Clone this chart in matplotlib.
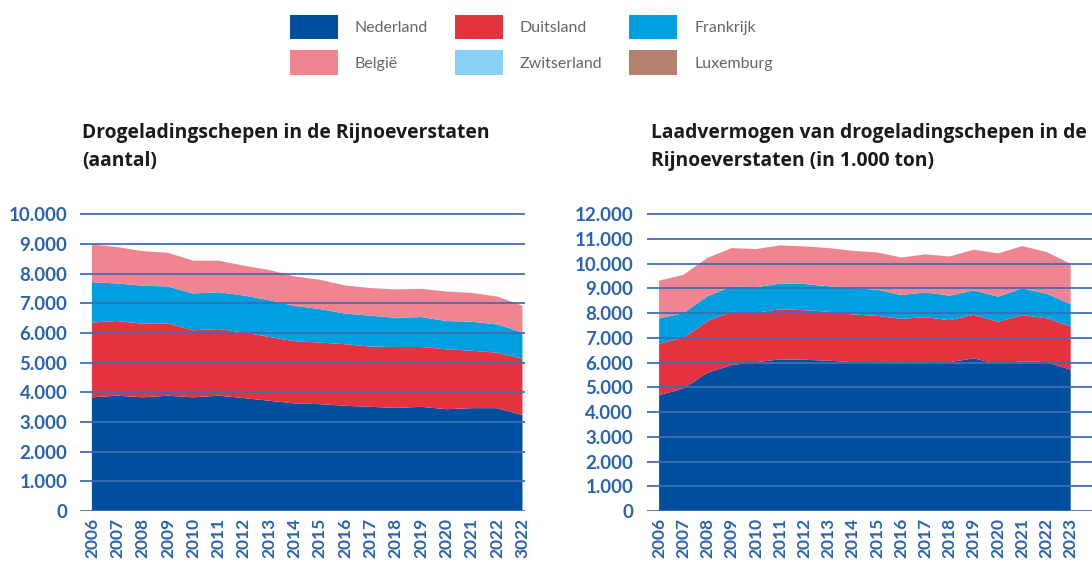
import numpy as np
import matplotlib.pyplot as plt
from matplotlib.patches import Patch
from matplotlib.ticker import FuncFormatter

# aantal drogeladingschepen per land (gestapeld)
jaren_aantal = ['2006', '2007', '2008', '2009', '2010', '2011', '2012', '2013', '2014',
                '2015', '2016', '2017', '2018', '2019', '2020', '2021', '2022', '3022']
nl_aantal = [3830, 3885, 3830, 3885, 3830, 3885, 3805, 3715, 3625, 3600, 3545, 3510, 3475, 3510, 3430, 3465, 3465, 3230]
de_aantal = [2520, 2515, 2480, 2435, 2260, 2245, 2210, 2150, 2095, 2075, 2075, 2030, 2050, 2015, 2020, 1935, 1870, 1900]
fr_aantal = [1360, 1265, 1280, 1245, 1240, 1240, 1245, 1235, 1190, 1130, 1030, 1040, 985, 1010, 950, 975, 950, 885]
be_aantal = [1270, 1225, 1165, 1135, 1105, 1065, 1005, 1020, 995, 985, 950, 930, 955, 950, 995, 975, 940, 905]
ch_aantal = [0] * 18
lu_aantal = [0] * 18

# laadvermogen in 1.000 ton
jaren_ton = ['2006', '2007', '2008', '2009', '2010', '2011', '2012', '2013', '2014',
             '2015', '2016', '2017', '2018', '2019', '2020', '2021', '2022', '2023']
nl_ton = [4680, 4950, 5590, 5900, 6020, 6130, 6115, 6075, 6020, 6020, 5950, 6020, 6020, 6170, 5940, 6050, 6020, 5710]
de_ton = [2085, 2050, 2085, 2155, 1995, 2030, 2005, 1980, 1925, 1870, 1820, 1815, 1695, 1760, 1710, 1870, 1775, 1750]
fr_ton = [1020, 1000, 1005, 1030, 1030, 1035, 1060, 1030, 1060, 1060, 960, 1005, 990, 990, 1015, 1085, 990, 905]
be_ton = [1530, 1545, 1555, 1545, 1545, 1545, 1520, 1545, 1515, 1505, 1520, 1535, 1585, 1645, 1750, 1705, 1685, 1630]
ch_ton = [0] * 18
lu_ton = [0] * 18

landen = ['Nederland', 'Duitsland', 'Frankrijk', 'België', 'Zwitserland', 'Luxemburg']
kleuren = ['#004f9f', '#e3333f', '#009fe0', '#ee8591', '#88d1f5', '#b5806e']

tick_kleur = '#2a63ae'
grid_kleur = '#3f6cb4'

plt.rcParams['font.family'] = ['Lato', 'DejaVu Sans']

fig = plt.figure(figsize=(10.92, 5.64), dpi=100)
ax1 = fig.add_axes([80 / 1092, 53 / 564, 445 / 1092, 298 / 564])
ax2 = fig.add_axes([647 / 1092, 53 / 564, 445 / 1092, 298 / 564])


def teken(ax, jaren, reeksen, ymax, xlim):
    x = np.arange(len(jaren))
    ax.stackplot(x, *reeksen, colors=kleuren, linewidth=0, zorder=1)
    for y in range(0, ymax + 1, 1000):
        ax.axhline(y, color=grid_kleur, lw=1.4, alpha=0.9, zorder=3)
    ax.set_xlim(*xlim)
    ax.set_ylim(0, ymax * 1.004)
    ax.set_yticks(range(0, ymax + 1, 1000))
    ax.yaxis.set_major_formatter(FuncFormatter(lambda v, p: f'{int(v):,}'.replace(',', '.')))
    ax.set_xticks(x)
    ax.set_xticklabels(jaren, rotation=90)
    ax.tick_params(length=0, colors=tick_kleur)
    for lab in ax.get_yticklabels():
        lab.set_fontsize(13.5)
        lab.set_fontweight('bold')
    for lab in ax.get_xticklabels():
        lab.set_fontsize(12.5)
        lab.set_fontweight('bold')
    for s in ax.spines.values():
        s.set_visible(False)


teken(ax1, jaren_aantal, [nl_aantal, de_aantal, fr_aantal, be_aantal, ch_aantal, lu_aantal],
      10000, (-0.47, 17.1))
ax1.tick_params(axis='y', pad=9)
ax1.tick_params(axis='x', pad=5)

teken(ax2, jaren_ton, [nl_ton, de_ton, fr_ton, be_ton, ch_ton, lu_ton],
      12000, (-0.5, 17.88))
ax2.tick_params(axis='y', pad=10)
ax2.tick_params(axis='x', pad=5)

titel_font = dict(fontsize=13.9, fontweight='bold', color='#1a1a1a', family=['Open Sans', 'DejaVu Sans'])
fig.text(82 / 1092, 1 - 133 / 564, 'Drogeladingschepen in de Rijnoeverstaten', va='center', **titel_font)
fig.text(82 / 1092, 1 - 161 / 564, '(aantal)', va='center', **titel_font)
fig.text(651 / 1092, 1 - 133 / 564, 'Laadvermogen van drogeladingschepen in de', va='center', **titel_font)
fig.text(651 / 1092, 1 - 161 / 564, 'Rijnoeverstaten (in 1.000 ton)', va='center', **titel_font)

# legenda rij voor rij: matplotlib vult kolom voor kolom
volgorde = [0, 3, 1, 4, 2, 5]
handles = [Patch(facecolor=kleuren[i], edgecolor='none') for i in volgorde]
labels = [landen[i] for i in volgorde]
fig.legend(handles, labels, ncol=3, loc='upper left', bbox_to_anchor=(277 / 1092, 1 - 2 / 564),
           frameon=False, fontsize=11.5, labelcolor='#666666',
           handlelength=3.0, handleheight=1.95, handletextpad=1.05,
           columnspacing=1.7, labelspacing=0.72, borderpad=0.3)

fig.savefig('out.png', dpi=100)
